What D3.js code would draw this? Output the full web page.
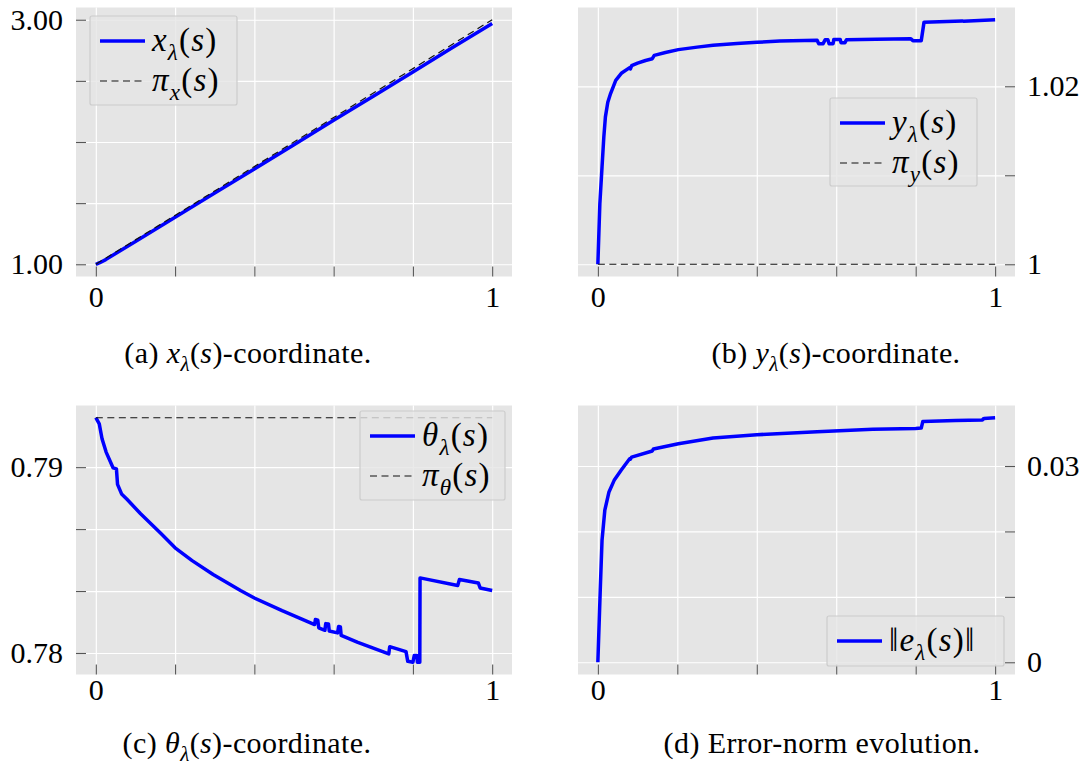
<!DOCTYPE html>
<html><head><meta charset="utf-8">
<script src="https://cdn.jsdelivr.net/npm/d3@7"></script>
<style>
body{margin:0;background:#fff}
</style>
</head><body>
<svg id="chart" width="1083" height="767"></svg>
<script>
// ---------- shared x axis ----------
const xTicks = [0, 0.2, 0.4, 0.6, 0.8, 1];
const xTickLabels = ["0", "", "", "", "", "1"];

// ---------- (a) x-coordinate ----------
const sA = [0, 0.01, 0.025, 0.05, 0.1, 0.2, 0.3, 0.4, 0.5, 0.6, 0.7, 0.8, 0.9, 1.0];
const xLambda = [1.0, 1.013, 1.038, 1.088, 1.186, 1.384, 1.582, 1.780, 1.978, 2.177, 2.375, 2.573, 2.772, 2.970];
const sPiX = [0, 1];
const piX = [1.0, 3.0];
const yTicksA = [1.0, 1.5, 2.0, 2.5, 3.0];
const yLabelsA = ["1.00", "", "", "", "3.00"];

// ---------- (b) y-coordinate ----------
const sB = [0, 0.005, 0.0105, 0.015, 0.019, 0.025, 0.032, 0.045, 0.06, 0.08, 0.082, 0.085, 0.1, 0.12, 0.137, 0.142, 0.17, 0.2026, 0.25, 0.29, 0.35, 0.40, 0.458, 0.552, 0.556, 0.567, 0.572, 0.579, 0.582, 0.592, 0.594, 0.610, 0.612, 0.622, 0.626, 0.70, 0.788, 0.793, 0.814, 0.821, 0.917, 0.92, 1.0];
const yLambda = [1.0, 1.0068, 1.01095, 1.0143, 1.01656, 1.0182, 1.01918, 1.02067, 1.0215, 1.0221, 1.02195, 1.02232, 1.0226, 1.0229, 1.0231, 1.02348, 1.0238, 1.02412, 1.0244, 1.0246, 1.0248, 1.02494, 1.02508, 1.02516, 1.02479, 1.02479, 1.02522, 1.02522, 1.02479, 1.02479, 1.02527, 1.02527, 1.0249, 1.0249, 1.02524, 1.0253, 1.02533, 1.02513, 1.02513, 1.02721, 1.02735, 1.02732, 1.02748];
const sPiY = [0, 1];
const piY = [1.0, 1.0];
const yTicksB = [1.0, 1.01, 1.02];
const yLabelsB = ["1", "", "1.02"];

// ---------- (c) theta-coordinate ----------
const sC = [0, 0.0087, 0.0157, 0.026, 0.039, 0.0435, 0.052, 0.0548, 0.065, 0.078, 0.113, 0.165, 0.2, 0.243, 0.296, 0.365, 0.4, 0.47, 0.552, 0.554, 0.560, 0.5625, 0.578, 0.580, 0.587, 0.589, 0.610, 0.6125, 0.617, 0.619, 0.661, 0.739, 0.7415, 0.7826, 0.787, 0.800, 0.8035, 0.8104, 0.8113, 0.8174, 0.8180, 0.913, 0.9174, 0.965, 0.9696, 1.0];
const thetaLambda = [0.79266, 0.79233, 0.79153, 0.79081, 0.79018, 0.78996, 0.78991, 0.78907, 0.78856, 0.78829, 0.78749, 0.78641, 0.78566, 0.78497, 0.78422, 0.78336, 0.78296, 0.78228, 0.78153, 0.78180, 0.78176, 0.78135, 0.78122, 0.78158, 0.78156, 0.78118, 0.78108, 0.78143, 0.78140, 0.78095, 0.78057, 0.77995, 0.78034, 0.78007, 0.77955, 0.7795, 0.77987, 0.77987, 0.7795, 0.7795, 0.78404, 0.78363, 0.78395, 0.78377, 0.7835, 0.78336];
const sPiTheta = [0, 1];
const piTheta = [0.79266, 0.79266];
const yTicksC = [0.78, 0.783333, 0.786667, 0.79];
const yLabelsC = ["0.78", "", "", "0.79"];

// ---------- (d) error norm ----------
const sD = [0, 0.006, 0.0105, 0.0175, 0.028, 0.041, 0.0585, 0.08, 0.082, 0.085, 0.137, 0.14, 0.2026, 0.29, 0.40, 0.552, 0.692, 0.80, 0.814, 0.818, 0.9, 0.968, 0.972, 1.0];
const eNorm = [0, 0.01103, 0.01866, 0.02324, 0.02603, 0.02781, 0.02934, 0.0311, 0.03105, 0.03135, 0.0323, 0.0326, 0.03341, 0.03427, 0.03478, 0.03524, 0.0356, 0.03575, 0.0358, 0.03682, 0.03695, 0.03705, 0.03728, 0.03738];
const yTicksD = [0, 0.01, 0.02, 0.03];
const yLabelsD = ["0", "", "", "0.03"];

// ---------- drawing ----------
const svg = d3.select("#chart");
const BLUE = "#0000ff";
const FS = 30;
const LFS = 33;

const candidates = ["Liberation Serif", "DejaVu Serif", "Noto Serif", "Tinos", "Times New Roman", "Times", "FreeSerif", "Nimbus Roman"];
function measure(fam) {
  const t = svg.append("text").attr("font-size", 40).style("font-family", fam).text("iiiWWWmmm0123");
  const w = t.node().getComputedTextLength(); t.remove(); return w;
}
let chosen = null;
for (const c of candidates) {
  const a = measure(`"${c}", monospace`), b = measure(`"${c}", sans-serif`);
  if (Math.abs(a - b) < 0.01) { chosen = c; break; }
}
const FONT = chosen ? `"${chosen}", serif` : "serif";
svg.style("font-family", FONT);

function addParts(t, parts, fs) {
  let inSub = false;
  const off = fs * 0.26;
  parts.forEach(([str, k]) => {
    const ts = t.append("tspan").text(str);
    if (k.includes("i")) ts.attr("font-style", "italic");
    const sub = k.includes("s");
    if (sub) ts.attr("font-size", fs * 0.7);
    if (sub && !inSub) ts.attr("dy", off);
    if (!sub && inSub) ts.attr("dy", -off);
    inSub = sub;
  });
}

function panel(p) {
  const x = d3.scaleLinear().domain([-0.05, 1.05]).range(p.xr);
  const all = p.series.flatMap(s => s.v);
  const lo = d3.min(all), hi = d3.max(all), m = (hi - lo) * 0.05;
  const y = d3.scaleLinear().domain([lo - m, hi + m]).range(p.yr);
  const W = p.xr[1] - p.xr[0], H = p.yr[0] - p.yr[1];
  const g = svg.append("g");

  g.append("rect").attr("x", p.xr[0]).attr("y", p.yr[1]).attr("width", W).attr("height", H).attr("fill", "#e5e5e5");

  const gx = g.append("g").attr("transform", `translate(0,${p.yr[0]})`)
    .call(d3.axisBottom(x).tickValues(xTicks).tickSize(-H).tickFormat(""));
  const gy = g.append("g").attr("transform", `translate(${p.xr[0]},0)`)
    .call(d3.axisLeft(y).tickValues(p.yTicks).tickSize(-W).tickFormat(""));
  [gx, gy].forEach(a => { a.select(".domain").remove(); a.selectAll("line").attr("stroke", "#ffffff").attr("stroke-width", 1.2); });

  const line = d3.line().x(d => x(d[0])).y(d => y(d[1]));
  p.series.forEach(s => {
    const pts = s.s.map((v, i) => [v, s.v[i]]);
    const path = g.append("path").datum(pts).attr("d", line).attr("fill", "none");
    if (s.type === "blue") path.attr("stroke", BLUE).attr("stroke-width", 3.5).attr("stroke-linejoin", "round");
    else path.attr("stroke", "#111111").attr("stroke-width", 1.2).attr("stroke-dasharray", "7,4.5");
  });

  const ax = g.append("g").attr("transform", `translate(0,${p.yr[0]})`)
    .call(d3.axisBottom(x).tickValues(xTicks).tickSize(-10).tickPadding(p.xPad).tickFormat((d, i) => xTickLabels[i]));
  let ay;
  if (p.side === "left") {
    ay = g.append("g").attr("transform", `translate(${p.xr[0]},0)`)
      .call(d3.axisLeft(y).tickValues(p.yTicks).tickSize(-10).tickPadding(13).tickFormat((d, i) => p.yLabels[i]));
  } else {
    ay = g.append("g").attr("transform", `translate(${p.xr[1]},0)`)
      .call(d3.axisRight(y).tickValues(p.yTicks).tickSize(-10).tickPadding(12).tickFormat((d, i) => p.yLabels[i]));
  }
  [ax, ay].forEach(a => {
    a.select(".domain").remove();
    a.selectAll("line").attr("stroke", "#555555").attr("stroke-width", 1.1);
    a.attr("font-size", FS).attr("font-family", FONT);
    a.selectAll("text").attr("fill", "#000");
  });

  const L = p.legend;
  const lg = g.append("g");
  lg.append("rect").attr("x", L.x).attr("y", L.y).attr("width", L.w).attr("height", L.h)
    .attr("rx", 2).attr("fill", "#e5e5e5").attr("fill-opacity", 0.8).attr("stroke", "#cccccc").attr("stroke-width", 1.2);
  L.items.forEach((it, i) => {
    const ry = L.y + 25 + i * 40;
    const ln = lg.append("line").attr("x1", L.x + 10).attr("x2", L.x + 55).attr("y1", ry).attr("y2", ry);
    if (it.type === "blue") ln.attr("stroke", BLUE).attr("stroke-width", 3.5);
    else ln.attr("stroke", "#111111").attr("stroke-width", 1.2).attr("stroke-dasharray", "7,4.5");
    const t = lg.append("text").attr("x", L.x + 62).attr("y", ry + 10).attr("font-size", LFS)
      .attr("letter-spacing", 1.2);
    addParts(t, it.parts, LFS);
  });

  const c = svg.append("text").attr("x", p.caption.x).attr("y", p.caption.y).attr("text-anchor", "middle")
    .attr("font-size", FS).attr("letter-spacing", 0.4);
  addParts(c, p.caption.parts, FS);
}

panel({
  xr: [76, 512], yr: [276.5, 7.5], side: "left", xPad: 9,
  yTicks: yTicksA, yLabels: yLabelsA,
  series: [{ s: sA, v: xLambda, type: "blue" }, { s: sPiX, v: piX, type: "dash" }],
  legend: { x: 90, y: 16, w: 147, h: 89, items: [
    { type: "blue", parts: [["x", "i"], ["λ", "is"], ["(", ""], ["s", "i"], [")", ""]] },
    { type: "dash", parts: [["π", "i"], ["x", "is"], ["(", ""], ["s", "i"], [")", ""]] }] },
  caption: { x: 248, y: 363, parts: [["(a) ", ""], ["x", "i"], ["λ", "is"], ["(", ""], ["s", "i"], [")-coordinate.", ""]] }
});
panel({
  xr: [578, 1015], yr: [276.5, 7.5], side: "right", xPad: 9,
  yTicks: yTicksB, yLabels: yLabelsB,
  series: [{ s: sB, v: yLambda, type: "blue" }, { s: sPiY, v: piY, type: "dash" }],
  legend: { x: 830, y: 98, w: 147, h: 88, items: [
    { type: "blue", parts: [["y", "i"], ["λ", "is"], ["(", ""], ["s", "i"], [")", ""]] },
    { type: "dash", parts: [["π", "i"], ["y", "is"], ["(", ""], ["s", "i"], [")", ""]] }] },
  caption: { x: 836, y: 363, parts: [["(b) ", ""], ["y", "i"], ["λ", "is"], ["(", ""], ["s", "i"], [")-coordinate.", ""]] }
});
panel({
  xr: [76, 512], yr: [674.5, 405.5], side: "left", xPad: 4,
  yTicks: yTicksC, yLabels: yLabelsC,
  series: [{ s: sC, v: thetaLambda, type: "blue" }, { s: sPiTheta, v: piTheta, type: "dash" }],
  legend: { x: 360, y: 411, w: 145, h: 89, items: [
    { type: "blue", parts: [["θ", "i"], ["λ", "is"], ["(", ""], ["s", "i"], [")", ""]] },
    { type: "dash", parts: [["π", "i"], ["θ", "is"], ["(", ""], ["s", "i"], [")", ""]] }] },
  caption: { x: 247, y: 753, parts: [["(c) ", ""], ["θ", "i"], ["λ", "is"], ["(", ""], ["s", "i"], [")-coordinate.", ""]] }
});
panel({
  xr: [578, 1015], yr: [674.5, 405.5], side: "right", xPad: 4,
  yTicks: yTicksD, yLabels: yLabelsD,
  series: [{ s: sD, v: eNorm, type: "blue" }],
  legend: { x: 827, y: 616, w: 177, h: 50, items: [
    { type: "blue", parts: [["‖", ""], ["e", "i"], ["λ", "is"], ["(", ""], ["s", "i"], [")‖", ""]] }] },
  caption: { x: 822, y: 753, parts: [["(d) Error-norm evolution.", ""]] }
});
</script>
</body></html>
